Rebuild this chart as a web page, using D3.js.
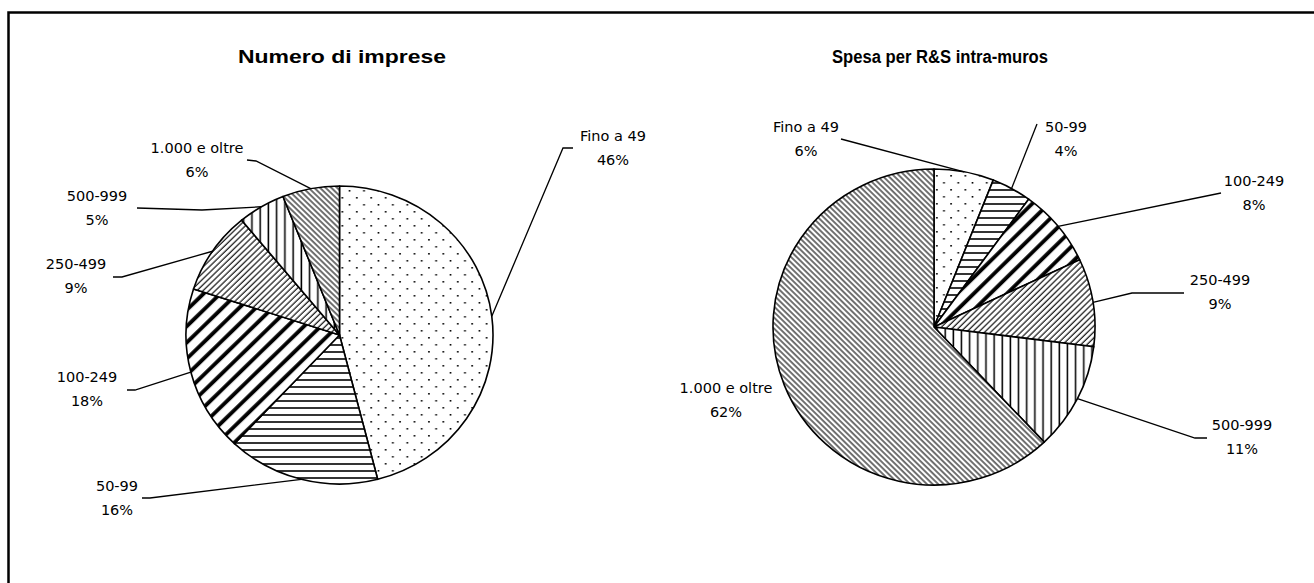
<!DOCTYPE html>
<html>
<head>
<meta charset="utf-8">
<script src="https://cdn.jsdelivr.net/npm/d3@7"></script>
<style>
  html, body { margin: 0; padding: 0; background: #fff; }
  svg { display: block; }
</style>
</head>
<body>
<svg id="chart" width="1314" height="583"></svg>
<script>
// ---------------- DATA ----------------
const categories = ["Fino a 49", "50-99", "100-249", "250-499", "500-999", "1.000 e oltre"];
const imprese = [46, 16, 18, 9, 5, 6];          // Numero di imprese (%)
const spesa   = [6, 4, 8, 9, 11, 62];           // Spesa per R&S intra-muros (%)
const titles  = ["Numero di imprese", "Spesa per R&S intra-muros"];

// ---------------- LAYOUT (positions only) ----------------
const pieGeom = [
  { cx: 339.5, cy: 335, rx: 153.5, ry: 149, titleX: 342, titleY: 63, titleW: 208 },
  { cx: 934,   cy: 327, rx: 161,   ry: 158, titleX: 940, titleY: 63, titleW: 216 }
];
// label centre (x, y of first line) and leader start points (near the label)
const labelLayout = [
  [ // left pie
    { x: 613, y: 136, lead: [[573,148],[563,148]] },
    { x: 117, y: 486, lead: [[142,498],[150,498]] },
    { x: 87,  y: 377, lead: [[127,390],[135,390]] },
    { x: 76,  y: 264, lead: [[113,277],[122,277]] },
    { x: 97,  y: 196, lead: [[137,208],[202,210]] },
    { x: 197, y: 148, lead: [[247,160],[256,161]] }
  ],
  [ // right pie
    { x: 806,  y: 127, lead: [[841,139]] },
    { x: 1066, y: 127, lead: [[1037,124]] },
    { x: 1254, y: 181, lead: [[1221,193]] },
    { x: 1220, y: 280, lead: [[1184,293],[1132,293]] },
    { x: 1242, y: 425, lead: [[1207,438],[1195,438]] },
    { x: 726,  y: 388, lead: null }
  ]
];

const svg = d3.select("#chart");
const defs = svg.append("defs");

// ---------------- PATTERNS ----------------
function mkPattern(id, w, h, rot, draw) {
  const p = defs.append("pattern").attr("id", id)
    .attr("patternUnits", "userSpaceOnUse").attr("width", w).attr("height", h);
  if (rot) p.attr("patternTransform", `rotate(${rot})`);
  p.append("rect").attr("width", w).attr("height", h).attr("fill", "#fff");
  draw(p, w, h);
}
// dots
mkPattern("pDots", 14, 14, 0, (p) => {
  p.append("rect").attr("x", 2).attr("y", 2).attr("width", 1.6).attr("height", 1.6).attr("fill", "#000");
  p.append("rect").attr("x", 9).attr("y", 9).attr("width", 1.6).attr("height", 1.6).attr("fill", "#000");
});
// horizontal lines
mkPattern("pHoriz", 10, 7, 0, (p, w) => {
  p.append("line").attr("x1", 0).attr("x2", w).attr("y1", 3).attr("y2", 3).attr("stroke", "#000").attr("stroke-width", 1.6);
});
// thick diagonal "/"
mkPattern("pThick", 11.5, 10, 45, (p, w, h) => {
  p.append("line").attr("x1", 4).attr("x2", 4).attr("y1", 0).attr("y2", h).attr("stroke", "#000").attr("stroke-width", 3.8);
});
// thin diagonal "/"
mkPattern("pThin", 4.2, 10, 45, (p, w, h) => {
  p.append("line").attr("x1", 1).attr("x2", 1).attr("y1", 0).attr("y2", h).attr("stroke", "#000").attr("stroke-width", 1.1);
});
// vertical lines
mkPattern("pVert", 8, 10, 0, (p, w, h) => {
  p.append("line").attr("x1", 3).attr("x2", 3).attr("y1", 0).attr("y2", h).attr("stroke", "#000").attr("stroke-width", 1.5);
});
// dense diagonal "\"
mkPattern("pBack", 3.9, 10, -45, (p, w, h) => {
  p.append("line").attr("x1", 1).attr("x2", 1).attr("y1", 0).attr("y2", h).attr("stroke", "#000").attr("stroke-width", 1.1);
});
const fills = ["url(#pDots)", "url(#pHoriz)", "url(#pThick)", "url(#pThin)", "url(#pVert)", "url(#pBack)"];

// ---------------- FRAME ----------------
svg.append("path").attr("d", "M8.5,583 V12.5 H1314")
  .attr("fill", "none").attr("stroke", "#000").attr("stroke-width", 2.5);

// ---------------- PIES ----------------
const pie = d3.pie().sort(null).value(d => d.value);

[imprese, spesa].forEach((vals, pi) => {
  const g = pieGeom[pi];
  const data = categories.map((c, i) => ({ cat: c, value: vals[i], idx: i }));
  const arcs = pie(data);
  const sx = g.rx / g.ry;
  const arc = d3.arc().innerRadius(0).outerRadius(g.ry);

  // title
  svg.append("text")
    .attr("x", g.titleX).attr("y", g.titleY)
    .attr("text-anchor", "middle")
    .attr("font-family", "'Liberation Sans', Arial, sans-serif")
    .attr("font-weight", "bold").attr("font-size", 18)
    .attr("textLength", g.titleW).attr("lengthAdjust", "spacingAndGlyphs")
    .text(titles[pi]);

  const pg = svg.append("g").attr("transform", `translate(${g.cx},${g.cy}) scale(${sx},1)`);
  pg.selectAll("path.slice").data(arcs).join("path")
    .attr("class", "slice")
    .attr("d", arc)
    .attr("fill", d => fills[d.data.idx])
    .attr("stroke", "#000").attr("stroke-width", 1.6)
    .attr("vector-effect", "non-scaling-stroke")
    .attr("stroke-linejoin", "round");

  // labels + leader lines
  arcs.forEach((a, i) => {
    const L = labelLayout[pi][i];
    const mid = (a.startAngle + a.endAngle) / 2;
    const ex = g.cx + g.rx * Math.sin(mid);
    const ey = g.cy - g.ry * Math.cos(mid);
    if (L.lead) {
      const pts = L.lead.concat([[ex, ey]]);
      svg.append("path").attr("d", d3.line()(pts))
        .attr("fill", "none").attr("stroke", "#000").attr("stroke-width", 1.3);
    }
    const t = svg.append("text")
      .attr("text-anchor", "middle")
      .attr("font-family", "'DejaVu Sans', sans-serif")
      .attr("font-size", 14.5).attr("fill", "#000");
    t.append("tspan").attr("x", L.x).attr("y", L.y).attr("dominant-baseline", "central").text(a.data.cat);
    t.append("tspan").attr("x", L.x).attr("y", L.y + 24).attr("dominant-baseline", "central").text(a.data.value + "%");
  });
});
</script>
</body>
</html>
